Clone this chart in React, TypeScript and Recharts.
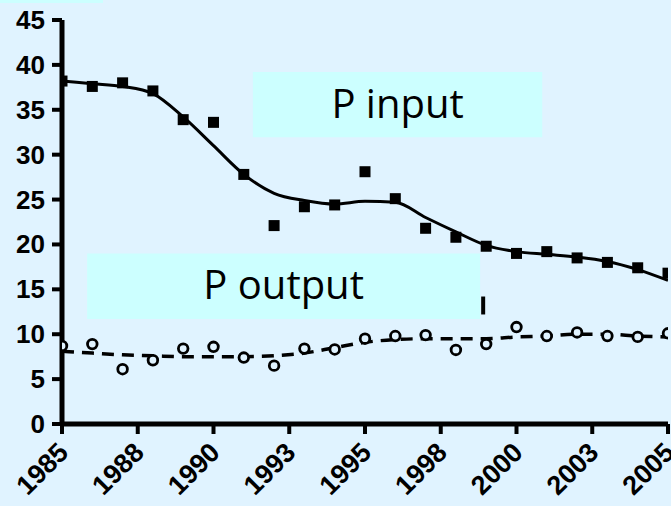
import React from "react";
import {
  ComposedChart,
  Line,
  XAxis,
  YAxis,
  ReferenceArea,
  ReferenceLine,
  Label,
} from "recharts";

const years = [
  1985, 1986, 1987, 1988, 1989, 1990, 1991, 1992, 1993, 1994, 1995, 1996,
  1997, 1998, 1999, 2000, 2001, 2002, 2003, 2004, 2005,
];
const pInput = [
  38.2, 37.6, 38.0, 37.1, 33.9, 33.6, 27.8, 22.1, 24.2, 24.4, 28.1, 25.1, 21.8,
  20.8, 19.8, 19.0, 19.2, 18.5, 18.0, 17.4, 16.8,
];
const pInputFit = [
  38.2, 37.9, 37.6, 36.8, 34.2, 31.0, 27.8, 25.7, 24.9, 24.5, 24.8, 24.7, 23.0,
  21.4, 19.9, 19.2, 18.9, 18.6, 18.1, 17.2, 16.0,
];
const pOutput = [
  8.7, 8.9, 6.1, 7.1, 8.4, 8.6, 7.4, 6.5, 8.4, 8.3, 9.5, 9.8, 9.9, 8.25, 8.9,
  10.8, 9.8, 10.2, 9.8, 9.7, 10.1,
];
const pOutputFit = [
  8.1, 7.9, 7.7, 7.6, 7.5, 7.5, 7.5, 7.6, 7.9, 8.5, 9.1, 9.4, 9.5, 9.5, 9.5,
  9.7, 9.8, 10.0, 10.0, 9.8, 9.7,
];
const xTicks = [1985, 1987.5, 1990, 1992.5, 1995, 1997.5, 2000, 2002.5, 2005];
const yTicks = [0, 5, 10, 15, 20, 25, 30, 35, 40, 45];

const data = years.map((year, i) => ({
  year,
  input: pInput[i],
  inputFit: pInputFit[i],
  output: pOutput[i],
  outputFit: pOutputFit[i],
}));

const BG = "#e0f3ff";
const BOX = "#ccffff";
const AXIS_FONT = "'Liberation Sans', Arial, sans-serif";
const NOTE_FONT = "'Comic Sans MS', 'Open Sans', sans-serif";

const Square = (props: any) => {
  const { cx, cy, index } = props;
  if (cx == null || cy == null) return <g key={index} />;
  return <rect key={index} x={cx - 5.5} y={cy - 5.5} width={11} height={11} fill="#000" />;
};

const Circle = (props: any) => {
  const { cx, cy, index } = props;
  if (cx == null || cy == null) return <g key={index} />;
  return <circle key={index} cx={cx} cy={cy} r={4.8} fill={BG} stroke="#000" strokeWidth={2.8} />;
};

const XTick = (props: any) => {
  const { x, y, payload } = props;
  const ax = x + 8;
  const ay = y + 18;
  return (
    <text
      x={ax}
      y={ay}
      transform={`rotate(-45 ${ax} ${ay})`}
      textAnchor="end"
      fontFamily={AXIS_FONT}
      fontWeight="bold"
      fontSize={27}
      fill="#000"
    >
      {Math.round(payload.value)}
    </text>
  );
};

const YTick = (props: any) => {
  const { y, payload } = props;
  return (
    <text
      x={45}
      y={y}
      dy={9}
      textAnchor="end"
      fontFamily={AXIS_FONT}
      fontWeight="bold"
      fontSize={26}
      fill="#000"
    >
      {payload.value}
    </text>
  );
};

const boxLabel = (text: string) => (p: any) => {
  const vb = p.viewBox;
  return (
    <text
      x={vb.x + vb.width / 2}
      y={vb.y + vb.height / 2 + 13}
      textAnchor="middle"
      fontFamily={NOTE_FONT}
      fontSize={40}
      fill="#000"
    >
      {text}
    </text>
  );
};

export default function App() {
  return (
    <div
      style={{
        position: "absolute",
        left: 0,
        top: 0,
        width: 671,
        height: 506,
        background: BG,
        overflow: "hidden",
      }}
    >
      <div style={{ position: "absolute", left: 0, top: 0, width: 103, height: 3, background: BOX }} />
      <ComposedChart
        width={671}
        height={506}
        data={data}
        margin={{ top: 20, right: 3, bottom: 0, left: 0 }}
      >
        <XAxis
          dataKey="year"
          type="number"
          domain={[1985, 2005]}
          ticks={xTicks}
          interval={0}
          height={82}
          axisLine={{ stroke: "#000", strokeWidth: 5 }}
          tickLine={{ stroke: "#000", strokeWidth: 4 }}
          tickSize={10}
          tick={<XTick />}
          allowDataOverflow
        />
        <YAxis
          type="number"
          domain={[0, 45]}
          ticks={yTicks}
          interval={0}
          width={62}
          axisLine={{ stroke: "#000", strokeWidth: 5 }}
          tickLine={{ stroke: "#000", strokeWidth: 4 }}
          tickSize={10}
          tick={<YTick />}
        />
        <Line
          dataKey="inputFit"
          type="monotone"
          stroke="#000"
          strokeWidth={3}
          dot={false}
          isAnimationActive={false}
        />
        <Line
          dataKey="outputFit"
          type="monotone"
          stroke="#000"
          strokeWidth={3.5}
          strokeDasharray="12 8"
          dot={false}
          isAnimationActive={false}
        />
        <Line
          dataKey="input"
          stroke="none"
          dot={<Square />}
          isAnimationActive={false}
        />
        <Line
          dataKey="output"
          stroke="none"
          dot={<Circle />}
          isAnimationActive={false}
        />
        <ReferenceArea
          x1={1991.3}
          x2={2000.85}
          y1={31.95}
          y2={39.2}
          fill={BOX}
          fillOpacity={1}
          stroke="none"
          ifOverflow="visible"
        >
          <Label position="center" content={boxLabel("P input")} />
        </ReferenceArea>
        <ReferenceArea
          x1={1985.83}
          x2={1998.8}
          y1={11.7}
          y2={19.0}
          fill={BOX}
          fillOpacity={1}
          stroke="none"
          ifOverflow="visible"
        >
          <Label position="center" content={boxLabel("P output")} />
        </ReferenceArea>
        <ReferenceLine
          segment={[
            { x: 1998.9, y: 14.2 },
            { x: 1998.9, y: 12.2 },
          ]}
          stroke="#000"
          strokeWidth={4}
          ifOverflow="visible"
        />
      </ComposedChart>
    </div>
  );
}
